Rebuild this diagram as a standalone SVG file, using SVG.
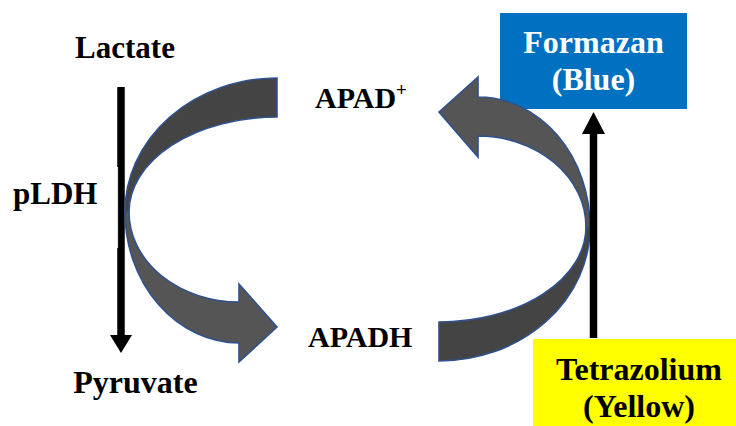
<svg xmlns="http://www.w3.org/2000/svg" width="736" height="426" viewBox="0 0 736 426">
<style>
.t{font-family:"Liberation Serif","Times New Roman",serif;font-weight:bold;font-size:32px;fill:#000}
.w{fill:#fff}
.c{stroke:#2f528f;stroke-width:1.6;stroke-linejoin:miter}
.dk{fill:#444}
.lt{fill:#555}
</style>
<rect width="736" height="426" fill="#fff"/>
<g id="formazan">
<rect x="500" y="13" width="187" height="96" fill="#0070c0"/>
<text class="t w" x="593.5" y="53" text-anchor="middle">Formazan</text>
<text class="t w" x="593.5" y="90" text-anchor="middle">(Blue)</text>
</g>
<g id="tetrazolium">
<rect x="533" y="339" width="210" height="90" fill="#ffff00"/>
<text class="t" x="639" y="380" text-anchor="middle">Tetrazolium</text>
<text class="t" x="639" y="417" text-anchor="middle">(Yellow)</text>
</g>
<g id="lactate"><text class="t" x="125" y="58" text-anchor="middle" style="font-size:31px">Lactate</text></g>
<g id="pldh"><text class="t" x="13" y="204" style="font-size:31px">pLDH</text></g>
<g id="pyruvate"><text class="t" x="135.5" y="393" text-anchor="middle">Pyruvate</text></g>
<g id="apad"><text class="t" x="315" y="108" style="font-size:30px">APAD<tspan dy="-12" style="font-size:19px">+</tspan></text></g>
<g id="apadh"><text class="t" x="308" y="347" style="font-size:30px">APADH</text></g>
<g id="connectors">
<line x1="121" y1="87" x2="121" y2="336" stroke="#000" stroke-width="7.5"/>
<polygon points="110,335 132,335 121,353" fill="#000"/>
<line x1="117.6" y1="167" x2="117.6" y2="248" stroke="#f2f2f2" stroke-width="1"/>
<path class="c dk" d="M277,78 A152,134 0 0 0 125,212 L129,212 A148,95 0 0 1 277,117 Z"/>
<path class="c lt" d="M125,212 A115,131 0 0 0 239,343 L239,362 L277,327 L239,284 L239,302 A110,90 0 0 1 129,212 Z"/>
<path class="c lt" d="M478,97 A112,130 0 0 1 590,227 L586,227 A108,91 0 0 0 478,136 L478,157 L439,112 L478,77 Z"/>
<path class="c dk" d="M590,227 A151,134 0 0 1 439,361 L439,322 A147,95 0 0 0 586,227 Z"/>
<line x1="593.5" y1="338" x2="593.5" y2="131" stroke="#000" stroke-width="7.5"/>
<polygon points="582,134 605,134 593.5,112" fill="#000"/>
</g>
</svg>
